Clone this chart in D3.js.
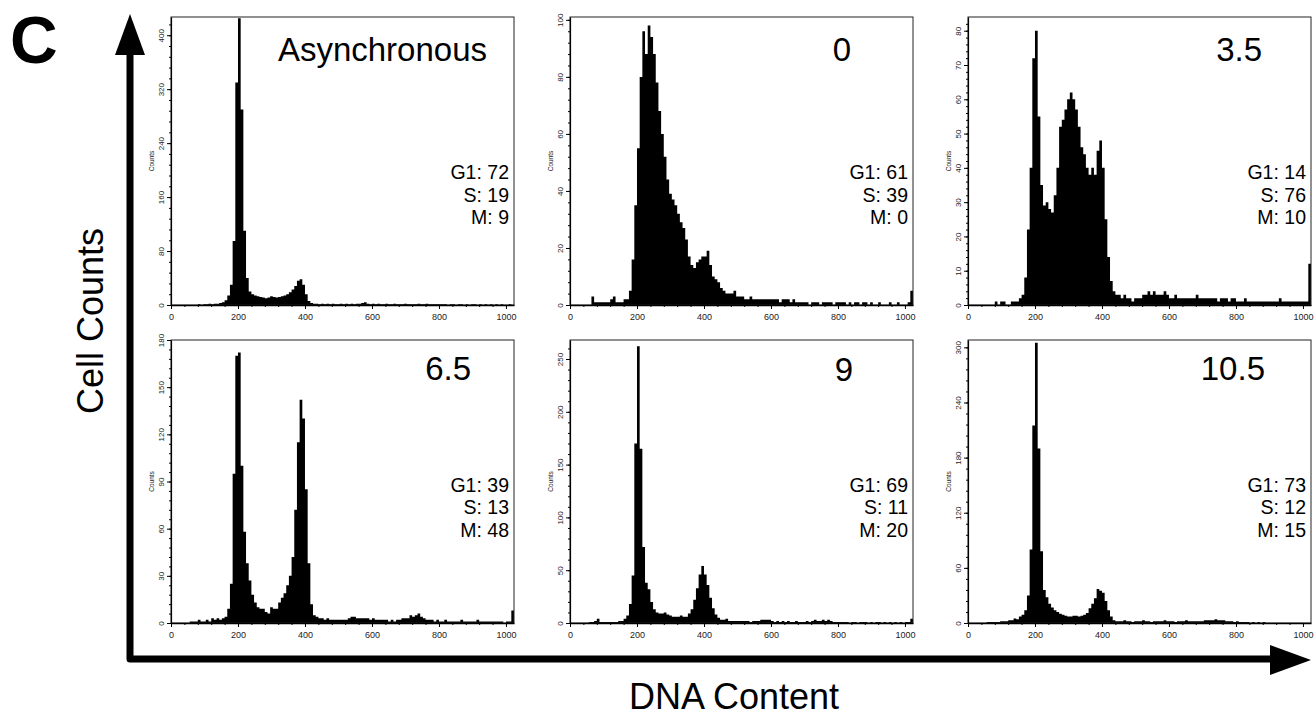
<!DOCTYPE html>
<html>
<head>
<meta charset="utf-8">
<script src="https://cdn.jsdelivr.net/npm/d3@7"></script>
<style>
  body { margin: 0; background: #fff; }
  svg text { font-family: "Liberation Sans", Arial, Helvetica, sans-serif; }
</style>
</head>
<body>
<script>
// histogram bins are 8 channels wide, 128 bins cover channels 0..1023
const binWidth = 8;

const panelTitles = ["Asynchronous", "0", "3.5", "6.5", "9", "10.5"];
const g1Values = [72, 61, 14, 39, 69, 73];
const sValues = [19, 39, 76, 13, 11, 12];
const mValues = [9, 0, 10, 48, 20, 15];

const yMaxValues = [427, 101, 84, 180, 268, 308];
const yTickValues = [
  [0, 80, 160, 240, 320, 400],
  [0, 20, 40, 60, 80, 100],
  [0, 10, 20, 30, 40, 50, 60, 70, 80],
  [0, 30, 60, 90, 120, 150, 180],
  [0, 50, 100, 150, 200, 250],
  [0, 60, 120, 180, 240, 300]
];
const xTickValues = [0, 200, 400, 600, 800, 1000];

const asyncCounts = [
  0,0,0,0,0,0,0,0,0,0,
  1,0,1,1,2,1,2,2,3,4,
  7,14,30,95,330,425,290,110,40,20,
  16,14,13,12,11,10,11,13,12,11,
  12,13,14,16,19,23,28,36,38,30,
  16,6,3,2,2,1,2,1,2,1,
  2,1,1,2,1,2,1,2,1,2,
  2,3,4,2,1,2,1,2,1,1,
  2,1,1,2,1,1,1,2,1,1,
  1,1,2,1,1,2,1,1,1,1,
  1,1,1,0,1,1,0,1,1,0,
  1,0,1,1,0,1,0,1,0,1,
  0,1,0,1,0,0,1,0
];
const hour0Counts = [
  0,0,0,0,0,0,0,0,3,1,
  1,1,1,1,1,2,3,1,1,1,
  2,2,5,16,35,55,80,96,88,98,
  94,88,78,68,60,52,44,39,37,35,
  32,29,27,23,17,14,13,15,16,17,
  17,19,14,10,9,8,6,5,4,4,
  4,5,3,3,3,2,2,3,2,2,
  2,2,2,2,2,2,2,2,1,2,
  2,2,1,2,1,1,1,1,1,0,
  1,1,1,0,1,1,1,1,0,1,
  1,1,1,0,1,0,1,1,0,1,
  1,0,1,0,0,1,0,0,0,1,
  0,0,1,0,0,0,1,5
];
const hour35Counts = [
  0,0,0,0,0,0,0,0,0,0,
  1,0,1,1,0,0,1,1,1,2,
  3,8,22,40,72,80,55,35,29,30,
  28,27,32,40,52,54,57,60,62,60,
  57,52,46,44,40,38,40,38,45,48,
  40,25,14,7,4,3,3,2,3,2,
  2,1,2,2,2,3,3,4,3,4,
  3,3,3,4,3,2,2,3,2,2,
  2,2,2,2,2,3,2,2,2,2,
  2,2,2,1,2,2,2,1,2,2,
  1,1,1,2,1,1,1,1,1,1,
  1,1,1,1,1,1,2,1,1,1,
  1,1,1,1,1,1,1,12
];
const hour65Counts = [
  0,0,0,0,0,0,0,1,1,1,
  2,1,1,2,1,3,2,3,2,3,
  4,9,25,95,170,172,100,58,38,27,
  18,13,10,9,9,7,6,10,9,9,
  13,16,19,24,30,42,72,115,142,130,
  85,38,12,5,4,3,3,2,3,2,
  2,2,2,2,2,2,3,4,4,3,
  3,3,3,3,2,3,2,2,2,2,
  2,1,2,1,2,2,3,3,3,5,
  4,5,6,4,3,2,2,2,1,2,
  1,1,2,1,1,1,1,1,2,1,
  1,1,1,1,2,1,1,1,1,1,
  1,1,1,1,0,1,1,8
];
const hour9Counts = [
  0,0,0,0,0,0,0,1,1,2,
  4,1,1,1,1,1,1,1,2,2,
  4,7,18,45,170,262,165,72,38,32,
  20,13,10,9,9,10,8,7,6,6,
  6,7,6,6,9,13,22,33,46,54,
  46,36,24,14,8,5,3,3,4,2,
  2,2,2,2,2,2,2,1,2,2,
  2,3,3,3,3,2,1,2,1,2,
  1,2,1,1,2,1,1,1,2,1,
  2,3,2,2,3,2,3,2,1,1,
  1,1,1,1,0,1,1,0,1,1,
  1,0,1,0,1,1,0,1,0,1,
  0,1,0,1,0,1,1,4
];
const hour105Counts = [
  0,0,0,0,0,0,0,1,1,1,
  1,1,2,2,2,3,3,5,4,7,
  9,14,30,80,215,305,190,78,36,28,
  21,17,14,12,10,9,8,7,7,8,
  8,7,8,9,11,16,21,27,37,35,
  33,24,14,7,3,2,2,2,3,2,
  2,1,2,2,2,3,2,2,1,2,
  2,2,2,3,2,2,2,1,2,2,
  2,3,2,2,2,2,2,2,3,3,
  3,3,4,3,3,3,2,2,2,1,
  2,1,1,1,1,0,1,0,1,0,
  1,0,0,0,0,0,0,0,0,0,
  0,0,0,0,0,0,0,0
];

const panelCounts = [asyncCounts, hour0Counts, hour35Counts, hour65Counts, hour9Counts, hour105Counts];

// layout
const width = 1316, height = 718;
const colLeft = [171, 570, 968];
const rowTop = [17, 340];
const rowHeight = [288, 283];
const plotW = 343;
const titleRight = [27, 62, 49, 43, 60, 46];
const titleBaseline = [44, 44, 44, 40, 41, 40];
const statBaseline = [162, 151.5];
const statGap = 22.5;

const svg = d3.select("body").append("svg")
  .attr("width", width)
  .attr("height", height);

const x = d3.scaleLinear().domain([0, 1024]).range([0, plotW]);

panelCounts.forEach((counts, i) => {
  const col = i % 3, row = Math.floor(i / 3);
  const h = rowHeight[row];
  const g = svg.append("g").attr("transform", `translate(${colLeft[col]},${rowTop[row]})`);
  const y = d3.scaleLinear().domain([0, yMaxValues[i]]).range([h, 0]);

  g.append("clipPath").attr("id", `clip${i}`)
    .append("rect").attr("width", plotW).attr("height", h);

  const pts = counts.map((c, j) => [j * binWidth, c]);
  pts.push([1024, counts[counts.length - 1]]);

  const area = d3.area()
    .curve(d3.curveStepAfter)
    .x((d) => x(d[0]))
    .y0(h)
    .y1((d) => y(d[1]));

  g.append("path")
    .datum(pts)
    .attr("clip-path", `url(#clip${i})`)
    .attr("fill", "#000")
    .attr("d", area);

  g.append("rect")
    .attr("width", plotW).attr("height", h)
    .attr("fill", "none").attr("stroke", "#222").attr("stroke-width", 1);

  // x axis: minor then major
  g.append("g").attr("transform", `translate(0,${h})`)
    .call(d3.axisBottom(x).tickValues(d3.range(0, 1025, 40)).tickSize(2).tickFormat(""))
    .call((a) => a.select(".domain").remove());
  const xa = g.append("g").attr("transform", `translate(0,${h})`)
    .call(d3.axisBottom(x).tickValues(xTickValues).tickSize(4).tickSizeOuter(0).tickFormat(d3.format("d")));
  xa.select(".domain").attr("stroke-width", 1.5);
  xa.selectAll("text").attr("font-size", 9).attr("fill", "#222").attr("dy", "0.9em");

  // y axis
  const ticks = yTickValues[i];
  const step = ticks[1] - ticks[0];
  g.append("g")
    .call(d3.axisLeft(y).tickValues(d3.range(0, yMaxValues[i], step / 5)).tickSize(2).tickFormat(""))
    .call((a) => a.select(".domain").remove());
  const ya = g.append("g")
    .call(d3.axisLeft(y).tickValues(ticks).tickSize(4).tickSizeOuter(0).tickFormat(d3.format("d")));
  ya.select(".domain").attr("stroke-width", 1.2);
  ya.selectAll("text")
    .attr("font-size", 8).attr("fill", "#222")
    .attr("x", 0).attr("y", -7).attr("dy", 0)
    .attr("text-anchor", "middle")
    .attr("transform", "rotate(-90)");

  g.append("text")
    .attr("transform", `translate(-17,${h / 2}) rotate(-90)`)
    .attr("text-anchor", "middle")
    .attr("font-size", 6.5).attr("fill", "#222")
    .text("Counts");

  // title and phase percentages
  g.append("text")
    .attr("x", plotW - titleRight[i]).attr("y", titleBaseline[i])
    .attr("text-anchor", "end").attr("font-size", 33)
    .text(panelTitles[i]);

  const stats = [`G1: ${g1Values[i]}`, `S: ${sValues[i]}`, `M: ${mValues[i]}`];
  g.selectAll(".stat").data(stats).join("text")
    .attr("class", "stat")
    .attr("x", plotW - 5)
    .attr("y", (d, k) => statBaseline[row] + k * statGap)
    .attr("text-anchor", "end").attr("font-size", 19.5)
    .text((d) => d);
});

// big axis arrows
svg.append("path")
  .attr("d", "M130,50 V659 H1275")
  .attr("fill", "none").attr("stroke", "#000")
  .attr("stroke-width", 7).attr("stroke-linejoin", "round");
svg.append("path").attr("d", "M130,14 L115,55 L145,55 Z").attr("fill", "#000");
svg.append("path").attr("d", "M1311,660 L1270,645 L1270,675 Z").attr("fill", "#000");

svg.append("text")
  .attr("x", 10).attr("y", 63)
  .attr("font-size", 66).attr("font-weight", "bold")
  .text("C");

svg.append("text")
  .attr("transform", "translate(103,321) rotate(-90)")
  .attr("text-anchor", "middle").attr("font-size", 36)
  .text("Cell Counts");

svg.append("text")
  .attr("x", 734).attr("y", 709)
  .attr("text-anchor", "middle").attr("font-size", 36)
  .text("DNA Content");
</script>
</body>
</html>
